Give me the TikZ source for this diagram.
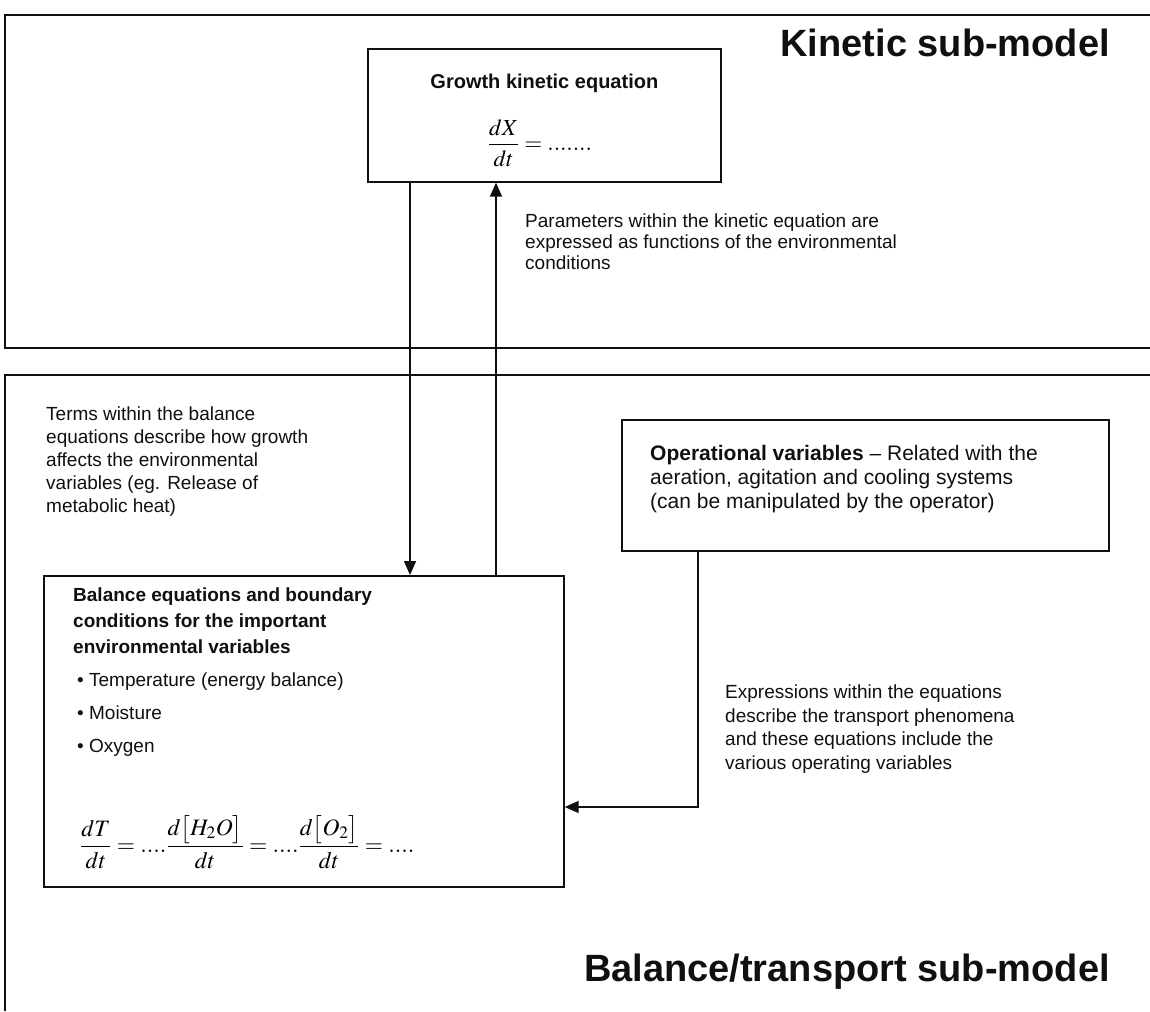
\documentclass[tikz,border=0pt]{standalone}
\usepackage{amsmath}
\usepackage{mathptmx}
\usepackage{fontspec}
\setmainfont{Liberation Sans}
\usepackage{xcolor}
\usetikzlibrary{positioning,arrows.meta,calc}
\definecolor{ink}{HTML}{101010}
\definecolor{paper}{HTML}{FFFFFF}

\begin{document}
\begin{tikzpicture}[x=1pt, y=-1pt,
    rule/.style={draw=ink, line width=1.7pt},
    panel/.style={draw=ink, line width=1.7pt, fill=paper, inner sep=0pt, anchor=north west},
    note/.style={font=\fontsize{19}{23}\selectfont, text=ink, align=left, inner sep=0pt, anchor=north west},
    heading/.style={font=\fontsize{38}{40}\selectfont\bfseries, text=ink, inner sep=0pt, anchor=base east},
    link/.style={draw=ink, line width=1.6pt, -{Triangle[length=14pt, width=12pt]}}]
  \fill[paper] (0,0) rectangle (1150,1011);
  \useasboundingbox (0,0) rectangle (1150,1011);

  % the two sub-model frames
  \draw[rule] (1150,15) -- (5,15) -- (5,348) -- (1150,348);
  \draw[rule] (1150,375) -- (5,375) -- (5,1011);
  \node[heading] (kinetic) at (1110,57) {Kinetic sub-model};
  \node[heading] (transport) at (1110,981) {Balance/transport sub-model};

  % kinetic part
  \node[panel, minimum width=353pt, minimum height=133pt] (growth) at (367,48) {};
  \node[note, font=\fontsize{20}{24}\selectfont\bfseries, below=26pt of growth.north] (growthname) {Growth kinetic equation};
  \node[font=\fontsize{23}{27}\selectfont, inner sep=0pt] (growthrate) at (540,143) {$\dfrac{dX}{dt}=.......$};
  \node[note, font=\fontsize{19}{21}\selectfont] (paramnote) at (525,214)
    {Parameters within the kinetic equation are\\expressed as functions of the environmental\\conditions};

  % balance part
  \node[note] (termnote) at (46,407)
    {Terms within the balance\\equations describe how growth\\affects the environmental\\variables (eg. Release of\\metabolic heat)};
  \node[panel, minimum width=520pt, minimum height=311pt] (balance) at (43,575) {};
  \node[note, font=\fontsize{19}{26}\selectfont\bfseries, below right=13pt and 30pt of balance.north west] (balancehead)
    {Balance equations and boundary\\conditions for the important\\environmental variables};
  \node[note, font=\fontsize{19}{33}\selectfont, below right=18pt and 4pt of balancehead.south west] (balancelist)
    {\textbullet{} Temperature (energy balance)\\\textbullet{} Moisture\\\textbullet{} Oxygen};
  \node[font=\fontsize{23.5}{27}\selectfont, inner sep=0pt, anchor=west] (balancerates) at (80,842)
    {$\dfrac{dT}{dt}=....\dfrac{d\bigl[H_2O\bigr]}{dt}=....\dfrac{d\bigl[O_2\bigr]}{dt}=....$};

  \node[panel, minimum width=487pt, minimum height=131pt] (operational) at (621,419) {};
  \node[note, font=\fontsize{21}{24}\selectfont, below right=26pt and 29pt of operational.north west] (operationaltext)
    {\textbf{Operational variables} -- Related with the\\aeration, agitation and cooling systems\\(can be manipulated by the operator)};
  \node[note, font=\fontsize{19}{23.5}\selectfont] (transportnote) at (725,685)
    {Expressions within the equations\\describe the transport phenomena\\and these equations include the\\various operating variables};

  % connectors
  \coordinate (downlane) at (410,0);
  \coordinate (uplane) at (496,0);
  \coordinate (bend) at (698,807);
  \draw[link] (growth.south -| downlane) -- (balance.north -| downlane);
  \draw[link] (balance.north -| uplane) -- (growth.south -| uplane);
  \draw[link] (operational.south -| bend) -- (bend) -- (balance.east |- bend);
\end{tikzpicture}
\end{document}
